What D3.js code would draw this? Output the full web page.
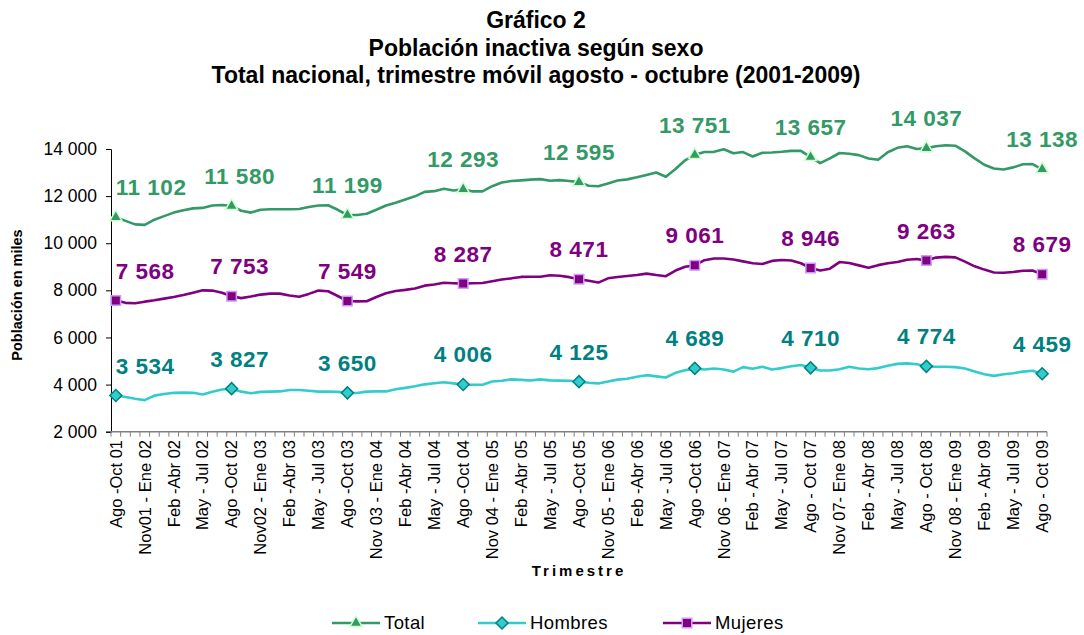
<!DOCTYPE html>
<html lang="es">
<head>
  <meta charset="UTF-8">
  <title>Gráfico 2</title>
  <script src="https://d3js.org/d3.v7.min.js"></script>
  <style>
    body { margin: 0; background: #fff; }
    text { font-family: "Liberation Sans", Arial, sans-serif; }
  </style>
</head>
<body>
  <svg width="1084" height="635"></svg>

  <script>
    // Tick labels (every third moving quarter)
    const xLabels = [
      'Ago -Oct 01', 'Nov01 - Ene 02', 'Feb -Abr 02', 'May - Jul 02',
      'Ago -Oct 02', 'Nov02 - Ene 03', 'Feb -Abr 03', 'May - Jul 03',
      'Ago -Oct 03', 'Nov 03 - Ene 04', 'Feb -Abr 04', 'May - Jul 04',
      'Ago -Oct 04', 'Nov 04 - Ene 05', 'Feb -Abr 05', 'May - Jul 05',
      'Ago -Oct 05', 'Nov 05 - Ene 06', 'Feb -Abr 06', 'May - Jul 06',
      'Ago -Oct 06', 'Nov 06 - Ene 07', 'Feb - Abr 07', 'May - Jul 07',
      'Ago - Oct 07', 'Nov 07- Ene 08', 'Feb - Abr 08', 'May - Jul 08',
      'Ago - Oct 08', 'Nov 08 - Ene 09', 'Feb - Abr 09', 'May - Jul 09',
      'Ago - Oct 09'
    ];

    // Monthly moving-quarter values, thousands (Ago-Oct 01 .. Ago-Oct 09)
    const total = [
      11102, 10950, 10800, 10780, 11000, 11150, 11300, 11400, 11480, 11500, 11600, 11620,
      11580, 11380, 11300, 11420, 11440, 11440, 11440, 11450, 11540, 11600, 11610, 11420,
      11199, 11200, 11250, 11420, 11600, 11720, 11860, 11990, 12180, 12210, 12310, 12240,
      12293, 12200, 12200, 12420, 12580, 12640, 12670, 12700, 12720, 12650, 12680, 12640,
      12595, 12440, 12420, 12540, 12660, 12710, 12800, 12900, 13000, 12820, 13150, 13520,
      13751, 13870, 13880, 13990, 13820, 13870, 13680, 13840, 13850, 13880, 13920, 13920,
      13657, 13400, 13600, 13830, 13800, 13740, 13600, 13540, 13860, 14050, 14120, 14000,
      14037, 14120, 14160, 14140, 13900, 13600, 13330, 13170, 13130, 13220, 13350, 13360,
      13138
    ];
    const hombres = [
      3534, 3470, 3400, 3340, 3530, 3600, 3650, 3660, 3650, 3580, 3700, 3790,
      3827, 3700, 3630, 3690, 3700, 3710, 3770, 3770, 3740, 3700, 3700, 3690,
      3650, 3640, 3700, 3710, 3710, 3800, 3860, 3930, 4010, 4060, 4100, 4050,
      4006, 3990, 3990, 4130, 4160, 4220, 4200, 4170, 4220, 4180, 4170, 4160,
      4125, 4080, 4050, 4130, 4210, 4250, 4330, 4400, 4350, 4300, 4500, 4610,
      4689, 4640, 4680, 4640, 4550, 4740, 4670, 4760, 4640, 4700, 4780, 4830,
      4710, 4600, 4600, 4650, 4760, 4680, 4650, 4700, 4800, 4880, 4900, 4860,
      4774, 4760, 4760, 4740, 4680, 4560, 4440, 4370, 4440, 4480, 4550, 4590,
      4459
    ];
    const mujeres = [
      7568, 7470, 7450, 7520, 7580, 7650, 7720, 7800, 7900, 8000, 7990, 7900,
      7753, 7670, 7740, 7820, 7860, 7860, 7780, 7730, 7850, 7990, 7960, 7760,
      7549, 7530, 7540, 7720, 7880, 7970, 8020, 8080, 8200, 8250, 8320, 8300,
      8287, 8300, 8310, 8390, 8460, 8510, 8570, 8580, 8580, 8640, 8620, 8560,
      8471, 8410, 8330, 8510, 8570, 8610, 8650, 8710, 8650, 8600, 8840, 9000,
      9061, 9280, 9350, 9350, 9310, 9230, 9150, 9120, 9250, 9290, 9270, 9150,
      8946, 8840, 8920, 9200, 9160, 9060, 8960, 9070, 9150, 9200, 9300, 9330,
      9263, 9390, 9420, 9400, 9220, 9020, 8880, 8760, 8750, 8780, 8830, 8840,
      8679
    ];
    const yTicks = [2000, 4000, 6000, 8000, 10000, 12000, 14000];

    const series = [
      { name: 'Total', values: total, line: '#339966', fill: '#339966', stroke: '#ccffcc', label: '#339966', shape: 'triangle' },
      { name: 'Hombres', values: hombres, line: '#33cccc', fill: '#33cccc', stroke: '#008080', label: '#008080', shape: 'diamond' },
      { name: 'Mujeres', values: mujeres, line: '#800080', fill: '#800080', stroke: '#cc99ff', label: '#800080', shape: 'square' }
    ];

    const svg = d3.select('svg');
    const plotL = 111, plotR = 1047, plotT = 149, plotB = 431.7;

    const x = d3.scaleBand().domain(d3.range(total.length)).range([plotL, plotR]).padding(0);
    const cx = i => x(i) + x.bandwidth() / 2;
    const y = d3.scaleLinear().domain([2000, 14000]).range([plotB, plotT]);

    const fmt = v => d3.format(',')(v).replace(/,/g, ' ');
    const keyIdx = d3.range(0, total.length, 12);

    // Title
    const title = ['Gráfico 2', 'Población inactiva según sexo',
      'Total nacional, trimestre móvil agosto - octubre (2001-2009)'];
    svg.selectAll('.title')
      .data(title)
      .enter().append('text')
      .attr('x', 536)
      .attr('y', (d, i) => 28 + i * 27.5)
      .attr('text-anchor', 'middle')
      .attr('font-size', 23)
      .attr('font-weight', 'bold')
      .text(d => d);

    // Y axis
    const yAxis = svg.append('g')
      .attr('transform', `translate(${plotL},0)`)
      .call(d3.axisLeft(y).tickValues(yTicks).tickSize(5).tickPadding(9).tickFormat(fmt));
    yAxis.select('.domain').attr('stroke', '#000');
    yAxis.selectAll('.tick line').attr('stroke', '#000');
    yAxis.selectAll('.tick text').attr('font-size', 17.5).attr('fill', '#000')
      .style('font-family', '"Liberation Sans", Arial, sans-serif');

    // X axis line and boundary ticks
    svg.append('line')
      .attr('x1', plotL).attr('x2', plotR)
      .attr('y1', plotB).attr('y2', plotB)
      .attr('stroke', '#808080').attr('stroke-width', 1.5);
    const bounds = d3.range(total.length + 1).map(i => i < total.length ? x(i) : x(i - 1) + x.bandwidth());
    svg.selectAll('.xtick')
      .data(bounds)
      .enter().append('line')
      .attr('x1', d => d).attr('x2', d => d)
      .attr('y1', plotB).attr('y2', plotB + 5)
      .attr('stroke', '#808080');

    svg.selectAll('.xlabel')
      .data(xLabels)
      .enter().append('text')
      .attr('transform', (d, i) => `translate(${cx(i * 3)},440) rotate(-90)`)
      .attr('text-anchor', 'end')
      .attr('dy', '0.35em')
      .attr('font-size', 16.5)
      .text(d => d);

    // Axis titles
    svg.append('text')
      .attr('transform', 'translate(22,295) rotate(-90)')
      .attr('text-anchor', 'middle')
      .attr('font-size', 14.5)
      .attr('font-weight', 'bold')
      .text('Población en miles');
    svg.append('text')
      .attr('x', 579).attr('y', 576)
      .attr('text-anchor', 'middle')
      .attr('font-size', 15)
      .attr('font-weight', 'bold')
      .attr('letter-spacing', 3)
      .text('Trimestre');

    // Marker shapes
    const symbolFor = {
      triangle: d3.symbol().type(d3.symbolTriangle).size(65)(),
      square: d3.symbol().type(d3.symbolSquare).size(90)(),
      diamond: d3.symbol().type(d3.symbolSquare).size(72)()
    };
    const rot = s => s === 'diamond' ? ' rotate(45)' : '';

    const line = d3.line().x((d, i) => cx(i)).y(d => y(d));

    series.forEach(s => {
      svg.append('path')
        .datum(s.values)
        .attr('d', line)
        .attr('fill', 'none')
        .attr('stroke', s.line)
        .attr('stroke-width', 2.6)
        .attr('stroke-linejoin', 'round');

      svg.selectAll('.m-' + s.name)
        .data(keyIdx)
        .enter().append('path')
        .attr('d', symbolFor[s.shape])
        .attr('transform', i => `translate(${cx(i)},${y(s.values[i])})${rot(s.shape)}`)
        .attr('fill', s.fill)
        .attr('stroke', s.stroke)
        .attr('stroke-width', 1.5);

      svg.selectAll('.l-' + s.name)
        .data(keyIdx)
        .enter().append('text')
        .attr('x', i => cx(i) + (i === 12 ? 8 : 0))
        .attr('y', i => y(s.values[i]) - 22)
        .attr('text-anchor', i => i === 0 ? 'start' : 'middle')
        .attr('font-size', 22.5)
        .attr('font-weight', 'bold')
        .attr('letter-spacing', 0.5)
        .attr('fill', s.label)
        .text(i => fmt(s.values[i]));
    });

    // Legend
    const legendX = [332, 478, 663];
    const lg = svg.selectAll('.legend')
      .data(series)
      .enter().append('g')
      .attr('transform', (d, i) => `translate(${legendX[i]},623)`);
    lg.append('line')
      .attr('x1', 0).attr('x2', 48)
      .attr('stroke', d => d.line).attr('stroke-width', 2.6);
    lg.append('path')
      .attr('d', d => symbolFor[d.shape])
      .attr('transform', d => `translate(24,0)${rot(d.shape)}`)
      .attr('fill', d => d.fill)
      .attr('stroke', d => d.stroke)
      .attr('stroke-width', 1.5);
    lg.append('text')
      .attr('x', 52)
      .attr('dy', '0.35em')
      .attr('font-size', 18.5)
      .attr('letter-spacing', 0.4)
      .text(d => d.name);
  </script>
</body>
</html>
